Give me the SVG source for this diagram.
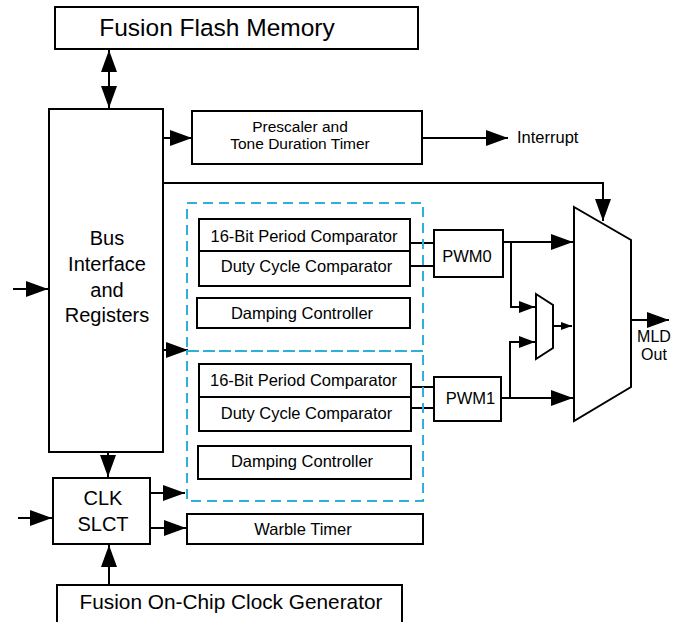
<svg xmlns="http://www.w3.org/2000/svg" width="678" height="622" viewBox="0 0 678 622">
<defs>
<style>
.box{fill:#fff;stroke:#000;stroke-width:2}
.ln{fill:none;stroke:#000;stroke-width:2}
.dash{fill:none;stroke:#2fb0d8;stroke-width:2;stroke-dasharray:10,6}
text{font-family:"Liberation Sans",Arial,sans-serif;fill:#000;text-anchor:middle}
.t16{font-size:16.5px}
.t20{font-size:20px}
</style>
<marker id="ah" markerUnits="userSpaceOnUse" markerWidth="22" markerHeight="16" refX="22" refY="8" orient="auto-start-reverse">
<path d="M0,0 L22,8 L0,16 Z" fill="#000"/>
</marker>
<marker id="am" markerUnits="userSpaceOnUse" markerWidth="16" markerHeight="12" refX="16" refY="6" orient="auto">
<path d="M0,0 L16,6 L0,12 Z" fill="#000"/>
</marker>
<marker id="as" markerUnits="userSpaceOnUse" markerWidth="11" markerHeight="8" refX="11" refY="4" orient="auto">
<path d="M0,0 L11,4 L0,8 Z" fill="#000"/>
</marker>
</defs>

<g id="connectors">
<line class="ln" x1="109" y1="50" x2="109" y2="108" marker-start="url(#ah)" marker-end="url(#ah)"/>
<line class="ln" x1="163" y1="138" x2="192" y2="138" marker-end="url(#ah)"/>
<line class="ln" x1="422" y1="138" x2="508" y2="138" marker-end="url(#ah)"/>
<polyline class="ln" points="163,183 603,183 603,221" marker-end="url(#ah)"/>
<line class="ln" x1="13" y1="289" x2="48" y2="289" marker-end="url(#ah)"/>
<line class="ln" x1="163" y1="350" x2="188" y2="350" marker-end="url(#ah)"/>
<line class="ln" x1="108" y1="452" x2="108" y2="477" marker-end="url(#ah)"/>
<line class="ln" x1="109" y1="585" x2="109" y2="545" marker-end="url(#ah)"/>
<line class="ln" x1="18" y1="518" x2="52" y2="518" marker-end="url(#ah)"/>
<line class="ln" x1="150" y1="493" x2="185" y2="493" marker-end="url(#ah)"/>
<line class="ln" x1="150" y1="528" x2="186" y2="528" marker-end="url(#ah)"/>
<line class="ln" x1="410" y1="243" x2="435" y2="243"/>
<line class="ln" x1="410" y1="266" x2="435" y2="266"/>
<line class="ln" x1="411" y1="387" x2="436" y2="387"/>
<line class="ln" x1="411" y1="408" x2="435" y2="408"/>
<line class="ln" x1="503" y1="242" x2="573" y2="242" marker-end="url(#ah)"/>
<line class="ln" x1="501" y1="398" x2="573" y2="398" marker-end="url(#ah)"/>
<polyline class="ln" points="511,242 511,307 535,307" marker-end="url(#am)"/>
<polyline class="ln" points="510,398 510,342 535,342" marker-end="url(#am)"/>
<line class="ln" x1="553" y1="326" x2="572" y2="326" marker-end="url(#as)"/>
<line class="ln" x1="631" y1="320" x2="669" y2="320" marker-end="url(#ah)"/>
</g>

<g id="flash"><rect class="box" x="55" y="7" width="363" height="42"/><text x="217" y="36" style="font-size:24.5px">Fusion Flash Memory</text></g>
<g id="bus"><rect class="box" x="49" y="109" width="114" height="343"/>
<text class="t20" x="107" y="245">Bus</text><text class="t20" x="107" y="271">Interface</text><text class="t20" x="107" y="297">and</text><text class="t20" x="107" y="322">Registers</text></g>
<g id="prescaler"><rect class="box" x="192" y="111" width="230" height="53"/>
<text x="300" y="132" style="font-size:15.5px">Prescaler and</text><text x="300" y="149" style="font-size:15.5px">Tone Duration Timer</text></g>
<text class="t16" x="517" y="143" style="text-anchor:start">Interrupt</text>

<g id="pwm0group"><rect class="dash" x="187" y="203" width="236" height="148"/></g>
<g id="pwm1group"><rect class="dash" x="187" y="351" width="236" height="150"/></g>

<g id="comp0"><rect class="box" x="199" y="219" width="211" height="67"/><line class="ln" x1="199" y1="251" x2="410" y2="251"/>
<text class="t16" x="304" y="242">16-Bit Period Comparator</text><text class="t16" x="306.5" y="272">Duty Cycle Comparator</text></g>
<g id="damp0"><rect class="box" x="197" y="298" width="213" height="30"/><text class="t16" x="302" y="318.5">Damping Controller</text></g>
<g id="comp1"><rect class="box" x="199" y="364" width="212" height="67"/><line class="ln" x1="199" y1="397" x2="411" y2="397"/>
<text class="t16" x="303.5" y="386">16-Bit Period Comparator</text><text class="t16" x="306.5" y="418.5">Duty Cycle Comparator</text></g>
<g id="damp1"><rect class="box" x="198" y="446" width="213" height="33"/><text class="t16" x="302" y="467">Damping Controller</text></g>

<g id="pwm0"><rect class="box" x="434" y="230" width="69" height="47"/><text class="t16" x="467" y="262">PWM0</text></g>
<g id="pwm1"><rect class="box" x="434" y="377" width="67" height="44"/><text class="t16" x="470.5" y="403.5">PWM1</text></g>

<g id="mux"><polygon class="box" points="574,207 631,240 631,387 574,421"/></g>
<g id="smallmux"><polygon class="box" points="536,294 553,305 553,348 536,359"/></g>
<g id="mldout"><text x="654" y="342" style="font-size:16px">MLD</text><text x="654" y="360" style="font-size:16px">Out</text></g>

<g id="clkslct"><rect class="box" x="53" y="478" width="97" height="66"/>
<text class="t20" x="103" y="505">CLK</text><text class="t20" x="103" y="531">SLCT</text></g>
<g id="warble"><rect class="box" x="187" y="514" width="236" height="30"/><text class="t16" x="303" y="535">Warble Timer</text></g>
<g id="clockgen"><rect class="box" x="57" y="585" width="345" height="45"/><text x="231" y="609" style="font-size:20.8px">Fusion On-Chip Clock Generator</text></g>
</svg>
